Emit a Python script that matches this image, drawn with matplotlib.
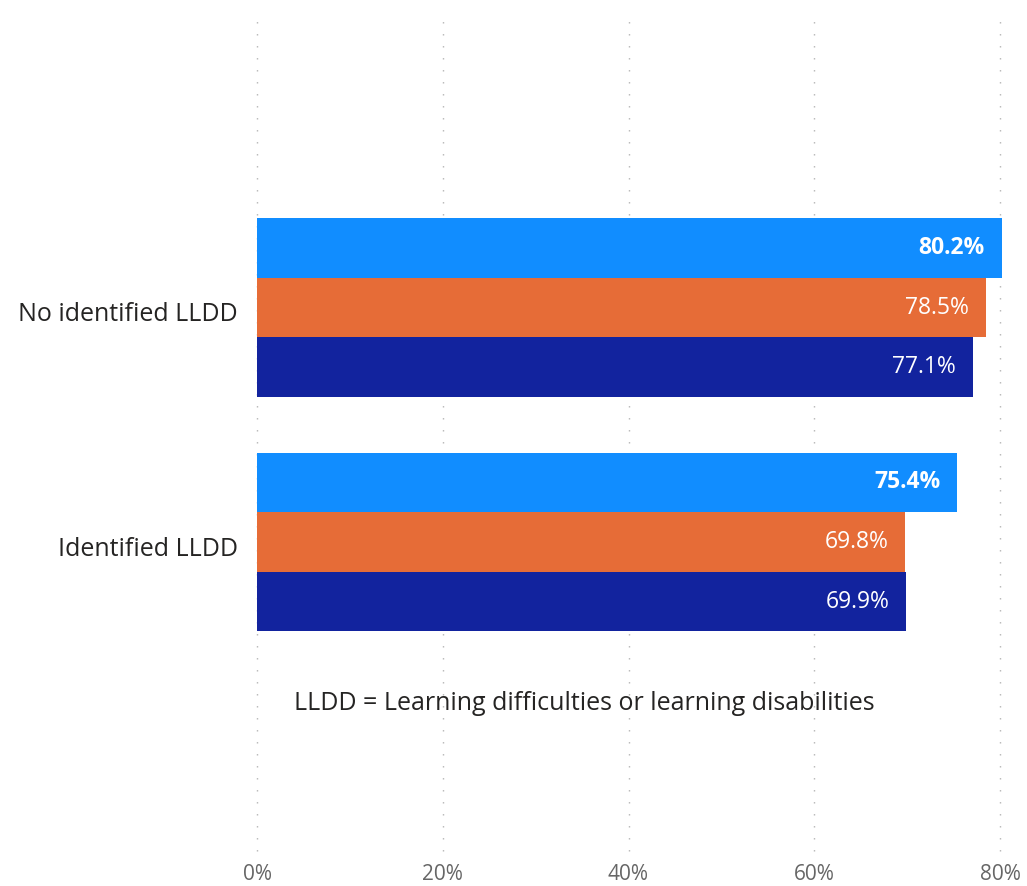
import matplotlib.pyplot as plt
import matplotlib.transforms as mtrans
import numpy as np

plt.rcParams['font.family'] = ['Open Sans', 'DejaVu Sans']

categories = ["No identified LLDD", "Identified LLDD"]
series_a = [80.2, 75.4]
series_b = [78.5, 69.8]
series_c = [77.1, 69.9]
ticks = [0, 20, 40, 60, 80]
tick_labels = ["0%", "20%", "40%", "60%", "80%"]
note = "LLDD = Learning difficulties or learning disabilities"

colors = ["#118DFF", "#E66C37", "#12239E"]

W, H = 1027, 886
fig = plt.figure(figsize=(W / 100, H / 100), dpi=100)
# axes placed in pixel terms: x from 257px (0%) to 1010px, y from 0 to 860px
px_per_unit = (1000 - 257) / 80
x_right = (1010 - 257) / px_per_unit
ax = fig.add_axes([257 / W, (H - 860) / H, (1010 - 257) / W, 860 / H])

ypos = np.arange(len(categories))
h = 59.6 / 234.5
all_series = [series_a, series_b, series_c]
for i, vals in enumerate(all_series):
    y = ypos + (i - 1) * h
    ax.barh(y, vals, height=h, color=colors[i], zorder=3, clip_on=False)
    for yy, v in zip(y, vals):
        ax.text(v - 17 / px_per_unit, yy, f"{v:.1f}%", ha="right", va="center",
                color="white", fontsize=16.5,
                fontweight="bold" if i == 0 else "normal", zorder=4)

ax.set_xlim(0, x_right)
ax.set_ylim(1 + (860 - 542) / 234.5, -307.5 / 234.5)

for t in ticks:
    ax.plot([t, t], [ax.get_ylim()[0] - 9 / 234.5, -296 / 234.5], color="#B4B4B4",
            linestyle=(0, (1, 7.64)), linewidth=1.0, zorder=1, clip_on=False)

ax.set_xticks(ticks)
ax.set_xticklabels(tick_labels, fontsize=15, color="#666666")
ax.set_yticks(ypos)
ax.set_yticklabels(categories, fontsize=18, color="#252423")
ax.tick_params(axis="both", length=0)
ax.tick_params(axis="y", pad=14)
ax.tick_params(axis="x", pad=3)
for s in ax.spines.values():
    s.set_visible(False)

shift = mtrans.ScaledTranslation(0, -4 / 100, fig.dpi_scale_trans)
for lab in ax.get_yticklabels():
    lab.set_transform(lab.get_transform() + shift)

fig.text(584.5 / W, 1 - 703 / H, note, ha="center", va="center",
         fontsize=18, color="#252423")

fig.savefig("out.png", dpi=100)
